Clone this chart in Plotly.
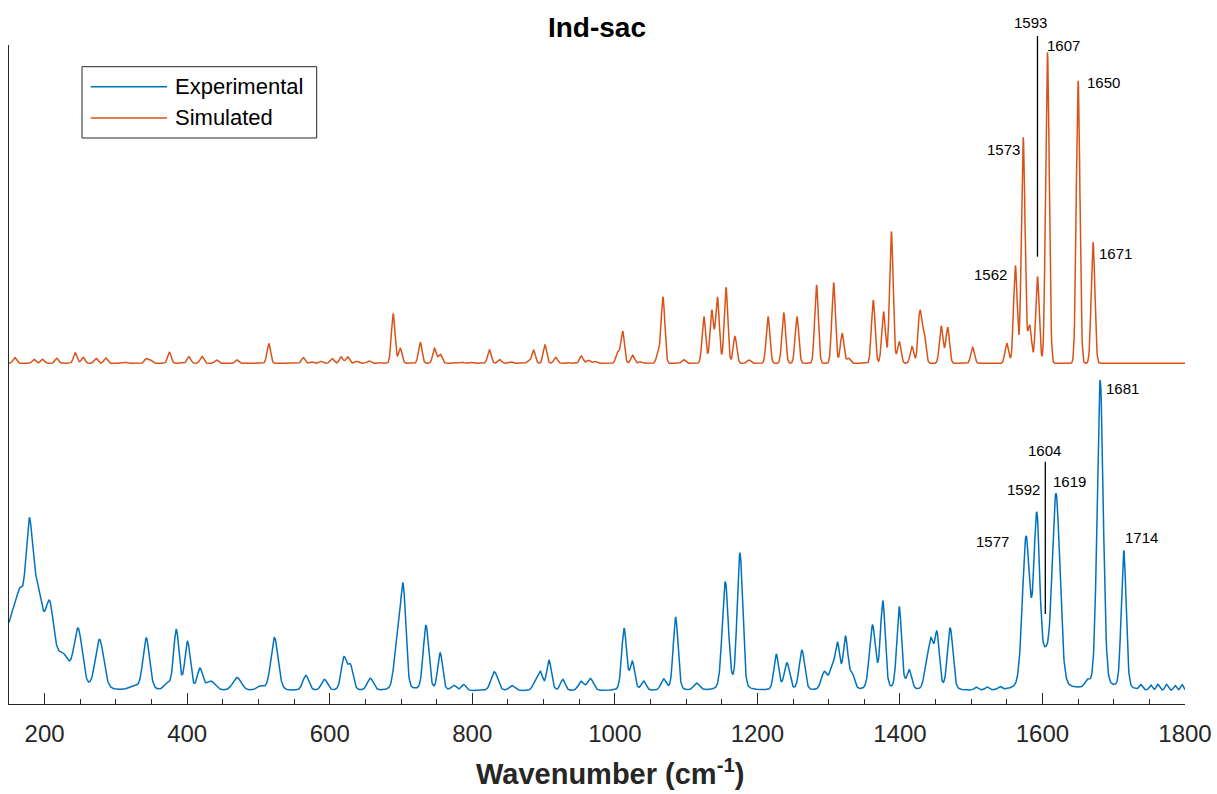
import numpy as np
import plotly.graph_objects as go

# ---- band parameters (position cm-1, height, FWHM) ----
exp_pos = [155, 166, 178, 190, 207, 225, 247, 277, 325, 342.6, 372, 384.7, 400.5, 417.8,
           433, 470, 503, 522.5, 566.5, 592.6, 619.8, 629, 657, 694.6, 703, 735, 755,
           774, 788, 831, 856, 888, 895.5, 907.7, 927, 952.6, 965.7, 1013, 1024.6,
           1040.5, 1068.5, 1085.3, 1115, 1155, 1175.5, 1226.5, 1241.5, 1262.5, 1294,
           1304.6, 1312.5, 1323.7, 1333, 1361.6, 1376, 1399, 1413, 1437, 1443.5, 1452,
           1470.5, 1507, 1522, 1540, 1577, 1592, 1604, 1619, 1663, 1681, 1714, 1738,
           1752, 1762, 1774, 1786, 1796]
exp_int = [72, 45, 130, 90, 72, 33, 58, 50, 4, 52, 6, 60, 48, 21,
           9, 13, 4, 53, 15, 11, 32, 24, 12, 45, 100, 65, 37,
           5, 6, 19, 5, 8, 18, 30, 11, 9, 12, 62, 28,
           9, 11, 73, 7, 108, 137, 36, 27, 40, 18,
           20, 45, 52, 15, 64, 88, 83, 19, 20, 45, 55,
           62, 3, 3, 3, 150, 170, 25, 195, 6, 310, 139, 5,
           5, 6, 6, 5, 6]
exp_fwhm = [26, 12, 12, 18, 14, 22, 14, 14, 15, 11, 10, 9, 9, 9,
            15, 14, 12, 12, 10, 10, 9, 9, 10, 10, 9, 9, 8,
            8, 8, 11, 10, 8, 8, 8, 8, 9, 10, 8, 8,
            8, 9, 8, 10, 10, 9, 8, 9, 9, 10,
            8, 8, 8, 8, 10, 8, 8, 8, 8, 8, 8,
            9, 6, 6, 6, 12, 10, 10, 13, 8, 10, 8, 5,
            5, 5, 5, 5, 5]

sim_pos = [158, 185, 197, 217, 243, 254, 272, 285.5, 313.6, 342.6, 349, 375, 402.4,
           420.6, 441, 470, 514.5, 563, 575, 588, 603, 616, 625, 637.5, 655, 668, 689,
           699, 727, 747, 755, 786, 798, 824, 838.5, 853.5, 879, 886, 902, 917, 933,
           953, 963, 972, 1004, 1011, 1025, 1036, 1061, 1067.6, 1096.5, 1125, 1136,
           1144, 1156, 1168.6, 1188, 1215, 1237, 1255.6, 1283, 1307, 1319, 1328,
           1362.6, 1377, 1388, 1399, 1417, 1428, 1434, 1458, 1467, 1502, 1550, 1562,
           1573, 1582, 1593, 1607, 1650, 1671]
sim_int = [5.7, 4, 4, 5, 10.5, 6, 5, 5.3, 1, 4.5, 3, 11, 6.7,
           7, 3.3, 3.3, 19.7, 5.7, 1.3, 2, 4.7, 6.5, 6.5, 2, 2.3, 1, 49.7,
           15, 21, 15, 9, 1, 1, 13.3, 3.7, 1.5, 2, 13, 18.3, 6, 1,
           7.3, 3, 2, 11, 32, 8, 1.5, 10, 66, 3.7, 46.7, 53,
           66, 76, 26.7, 3.3, 46.7, 50.7, 46.7, 78.3, 80.7, 30, 5,
           63.3, 51.7, 131.7, 21.7, 16.7, 51.7, 28, 37.3, 36, 16, 20, 97.7,
           225.7, 38, 86.7, 310.7, 282.3, 121]
SIM_FWHM = 6.0

# labelled band positions: (value, label x, label y)
sim_labels = [(1593, 1582.7, 1.034), (1607, 1629, 0.9985), (1650, 1685, 0.943),
              (1573, 1544.8, 0.842), (1562, 1526.6, 0.651), (1671, 1702, 0.684)]
exp_labels = [(1681, 1713, 0.4795), (1714, 1739.3, 0.253), (1619, 1637.4, 0.338),
              (1604, 1602.3, 0.3844), (1592, 1573, 0.326), (1577, 1530.4, 0.246)]
# marker lines: (band, top, bottom)
marker_lines = [(1593, 1.0137, 0.6788), (1604, 0.3677, 0.1366)]

# ---- build spectra ----
x = np.arange(150, 1800.01, 0.5)


def band(x0, h, w, eta):
    g = np.exp(-4 * np.log(2) * ((x - x0) / w) ** 2)
    lo = 1.0 / (1 + 4 * ((x - x0) / w) ** 2)
    return h * ((1 - eta) * g + eta * lo)


exp_y = np.zeros_like(x)
for p, h, w in zip(exp_pos, exp_int, exp_fwhm):
    exp_y += band(p, h, w, 0.2)
sim_y = np.zeros_like(x)
for p, h in zip(sim_pos, sim_int):
    sim_y += band(p, h, SIM_FWHM, 0.0)

SCALE = 0.472
EXP_OFFSET = 0.0197
SIM_OFFSET = 0.517
exp_plot = EXP_OFFSET + SCALE * exp_y / exp_y.max()
sim_plot = SIM_OFFSET + SCALE * sim_y / sim_y.max()

BLUE = "#0072BD"
ORANGE = "#D95319"
AX = "#262626"
FONT = "Liberation Sans, Arial, sans-serif"

fig = go.Figure()
fig.add_trace(go.Scatter(x=x, y=exp_plot, mode="lines", name="Experimental",
                         line=dict(color=BLUE, width=1.5), showlegend=False))
fig.add_trace(go.Scatter(x=x, y=sim_plot, mode="lines", name="Simulated",
                         line=dict(color=ORANGE, width=1.5), showlegend=False))

# y range is [0, 1], so paper y equals data y; paper refs allow drawing above the plot
for pos, y0, y1 in marker_lines:
    fig.add_shape(type="line", xref="x", yref="paper", x0=pos, x1=pos, y0=y0, y1=y1,
                  line=dict(color="black", width=1.3))

for val, lx, ly in sim_labels + exp_labels:
    fig.add_annotation(x=lx, y=ly, xref="x", yref="paper", text=str(val), showarrow=False,
                       font=dict(family=FONT, size=15, color="black"),
                       xanchor="center", yanchor="middle")

# pixel -> paper helpers for the plot area (x 9..1185, y 45..704)
W, H = 1176, 659


def px(xp):
    return (xp - 9) / W


def py(yp):
    return (704 - yp) / H


# legend box
fig.add_shape(type="rect", xref="paper", yref="paper", x0=px(82), x1=px(316.7),
              y0=py(138), y1=py(66.7), line=dict(color=AX, width=1), fillcolor="white")
for name, col, yy in [("Experimental", BLUE, 86.7), ("Simulated", ORANGE, 118)]:
    fig.add_shape(type="line", xref="paper", yref="paper", x0=px(90.7), x1=px(167),
                  y0=py(yy), y1=py(yy), line=dict(color=col, width=1.5))
    fig.add_annotation(xref="paper", yref="paper", x=px(173), y=py(yy), text=name,
                       showarrow=False, xanchor="left", yanchor="middle",
                       font=dict(family=FONT, size=22, color="black"))

# x-axis title
fig.add_annotation(xref="paper", yref="paper", x=px(610), y=py(772),
                   text="<b>Wavenumber (cm<sup>-1</sup>)</b>", showarrow=False,
                   xanchor="center", yanchor="middle",
                   font=dict(family=FONT, size=29, color=AX))

fig.update_layout(
    width=1217, height=794,
    margin=dict(l=9, r=32, t=45, b=90, autoexpand=False),
    paper_bgcolor="white", plot_bgcolor="white",
    title=dict(text="<b>Ind-sac</b>", x=597 / 1217, xanchor="center",
               y=1 - 27 / 794, yanchor="middle", yref="container",
               font=dict(family=FONT, size=28, color="black")),
    xaxis=dict(range=[150, 1800], tickvals=list(range(200, 1801, 200)),
               ticks="inside", ticklen=11, tickwidth=1, tickcolor=AX,
               minor=dict(dtick=50, tick0=0, ticks="inside", ticklen=5, tickcolor=AX),
               showline=True, linecolor=AX, linewidth=1, showgrid=False, zeroline=False,
               automargin=False,
               tickfont=dict(family=FONT, size=24, color=AX), ticklabelstandoff=8),
    yaxis=dict(range=[0, 1], showline=True, linecolor=AX, linewidth=1, ticks="",
               automargin=False,
               showticklabels=False, showgrid=False, zeroline=False),
)

fig.write_html("out.html")
